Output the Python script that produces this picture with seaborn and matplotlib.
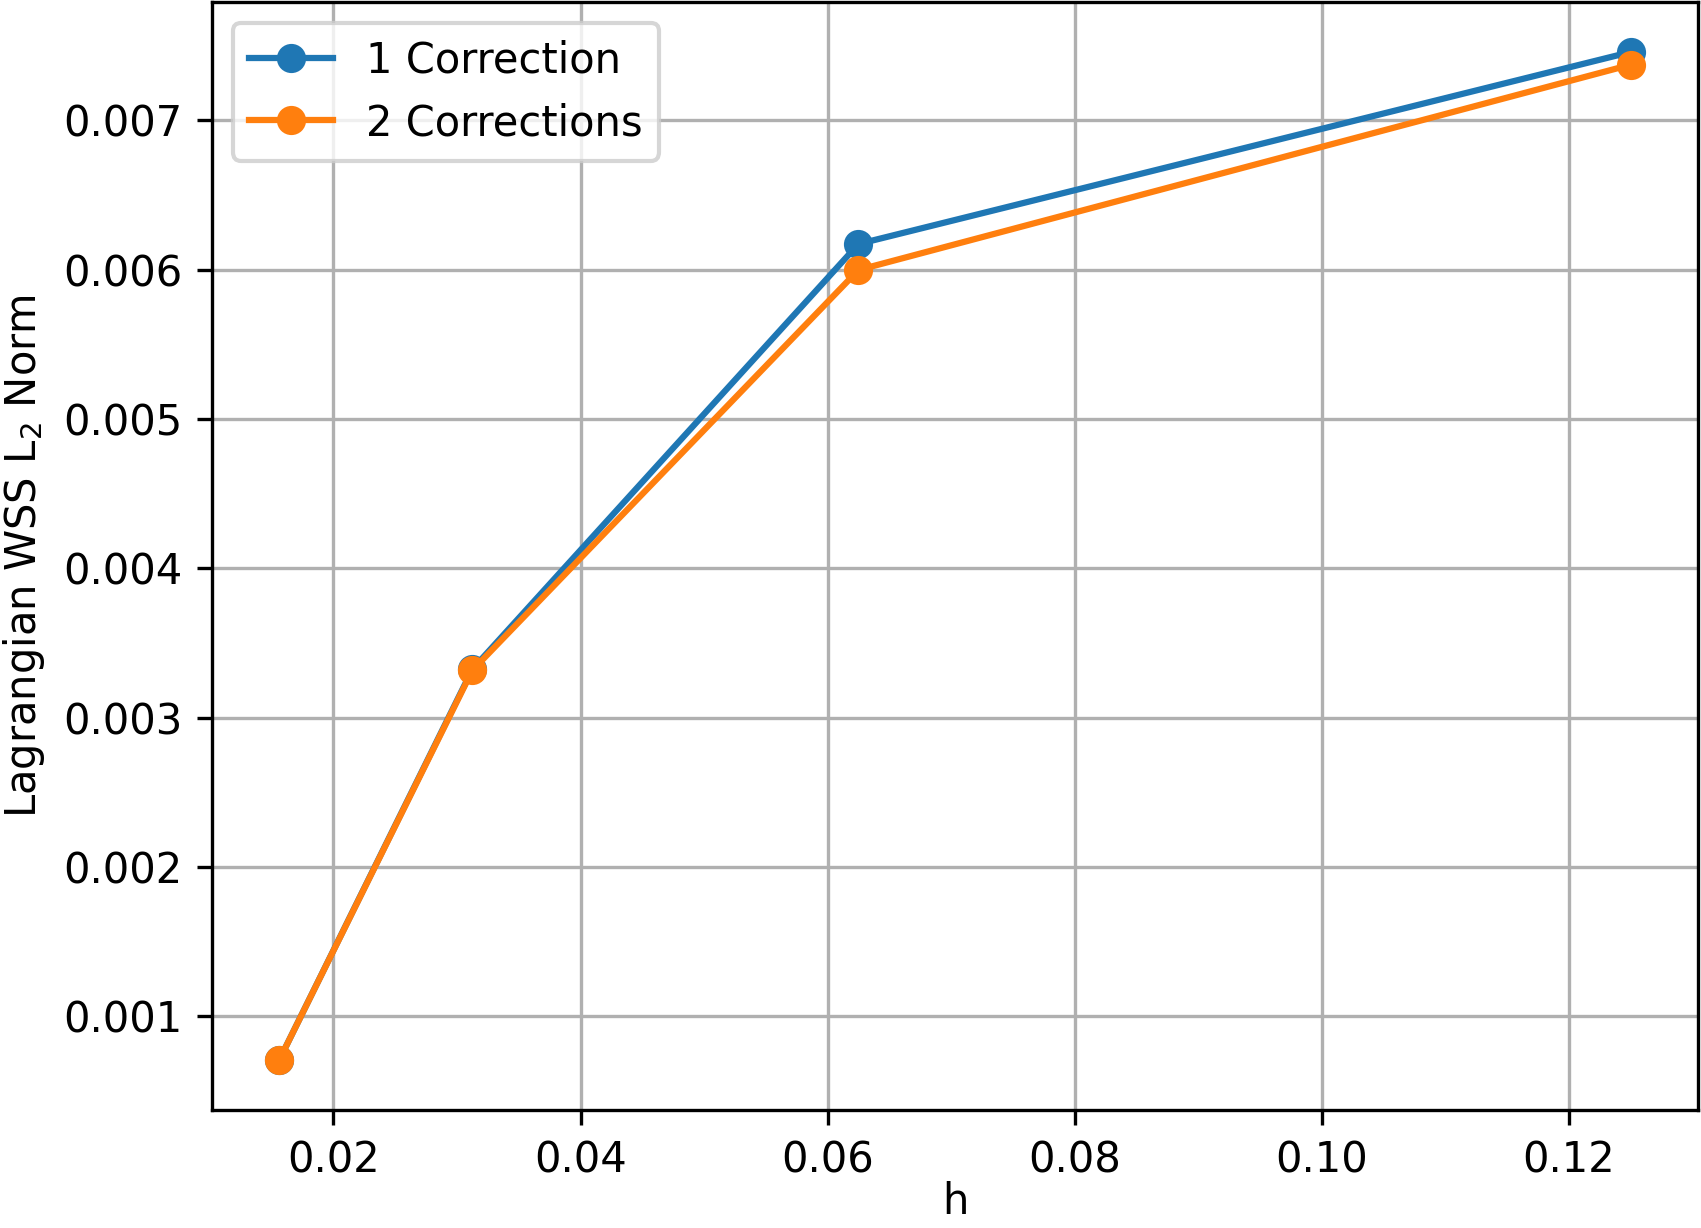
import numpy as np
import pandas as pd
import matplotlib
matplotlib.use('Agg')
import matplotlib.pyplot as plt
import seaborn as sns

# mesh sizes h = 1/64, 1/32, 1/16, 1/8
h_values = [1 / 64, 1 / 32, 1 / 16, 1 / 8]
one_correction = [0.00071, 0.003325, 0.006172, 0.007457]
two_corrections = [0.00071, 0.003318, 0.005998, 0.007372]
series_names = ['1 Correction', '2 Corrections']
colors = ['#1f77b4', '#ff7f0e']

df = pd.DataFrame({
    'h': h_values * 2,
    'err': one_correction + two_corrections,
    'method': [series_names[0]] * 4 + [series_names[1]] * 4,
})

fig, ax = plt.subplots(figsize=(1702 / 300, 1228 / 300), dpi=300)
fig.subplots_adjust(left=0.1245, right=0.9977, top=0.9986, bottom=0.0961)

for name, color in zip(series_names, colors):
    sub = df[df['method'] == name]
    sns.lineplot(data=sub, x='h', y='err', ax=ax, color=color, marker='o',
                 markersize=6, linewidth=1.5, markeredgecolor=color,
                 markeredgewidth=1.0, label=name, legend=False)

ax.legend(loc='upper left')
ax.grid(True)
ax.set_xlabel('h', labelpad=0)
ax.set_ylabel(r'Lagrangian WSS L$_2$ Norm')

plt.savefig('out.png', dpi=300)
plt.close()
